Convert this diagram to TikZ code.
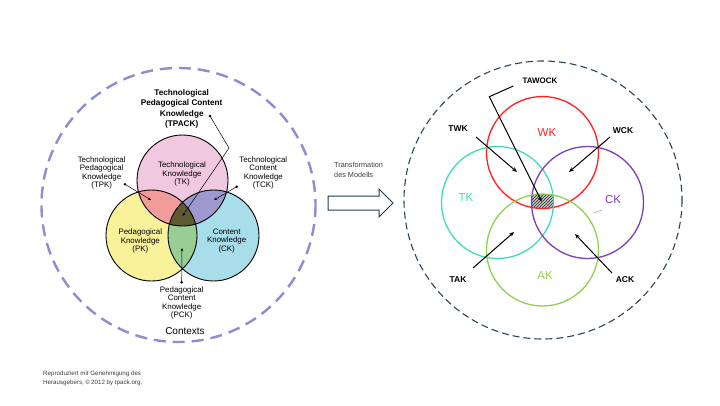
\documentclass[tikz,border=0pt]{standalone}
\usepackage{fontspec}
\setmainfont{Liberation Sans}
\usepackage{tikz}
\usepackage{xcolor}
\usetikzlibrary{arrows.meta, positioning, patterns, calc}
\definecolor{CtxLine}{HTML}{8E8CD2}
\definecolor{TkFill}{HTML}{F0C8DF}
\definecolor{PkFill}{HTML}{F8F29A}
\definecolor{CkFill}{HTML}{A8DDEA}
\definecolor{TpkFill}{HTML}{F29B9B}
\definecolor{TckFill}{HTML}{9D99CF}
\definecolor{PckFill}{HTML}{98CD96}
\definecolor{TpackFill}{HTML}{5E5A32}
\definecolor{RingInk}{HTML}{2B4555}
\definecolor{ArrowInk}{HTML}{1F3B4D}
\definecolor{WkRed}{HTML}{FF2020}
\definecolor{TkTeal}{HTML}{3DDDBB}
\definecolor{CkPurple}{HTML}{7E3DB8}
\definecolor{AkGreen}{HTML}{92D050}
\definecolor{NoteInk}{HTML}{3C3C3C}

\begin{document}
\begin{tikzpicture}[
  x=1pt, y=-1pt,
  lbl/.style={
    align=center,
    inner sep=0pt,
    font=\fontsize{7.9}{8.4}\selectfont,
  },
  ptr/.style={
    line width=0.5pt,
    -{Stealth[length=3.2pt, width=2.6pt]},
  },
  kpair/.style={
    inner sep=0pt,
    font=\bfseries\fontsize{8.5}{9}\selectfont,
  },
  kname/.style={
    inner sep=0pt,
    font=\fontsize{11.5}{12}\selectfont,
  },
  karr/.style={
    line width=1pt,
    -{Stealth[length=5pt, width=4pt]},
  },
  ring/.style={
    line width=1.3pt,
  },
]
  \useasboundingbox (0,0) rectangle (720,405);

  % left model
  \coordinate (ctx) at (178.5,205);
  \coordinate (tk) at (182.5,180.5);
  \coordinate (pk) at (151.5,235.5);
  \coordinate (ck) at (213.5,235.5);

  \draw[CtxLine, line width=2.4pt, dash pattern=on 12pt off 7pt] (ctx) circle (137);

  \fill[TkFill] (tk) circle (45.5);
  \fill[PkFill] (pk) circle (45.5);
  \fill[CkFill] (ck) circle (45.5);
  \begin{scope}
    \clip (tk) circle (45.5);
    \fill[TpkFill] (pk) circle (45.5);
    \fill[TckFill] (ck) circle (45.5);
  \end{scope}
  \begin{scope}
    \clip (pk) circle (45.5);
    \fill[PckFill] (ck) circle (45.5);
    \clip (ck) circle (45.5);
    \fill[TpackFill] (tk) circle (45.5);
  \end{scope}
  \draw[line width=0.9pt] (tk) circle (45.5) (pk) circle (45.5) (ck) circle (45.5);

  \node[lbl] (tkl) at (182,174.3) {Technological\\Knowledge\\(TK)};
  \node[lbl] (pkl) at (140.3,241) {Pedagogical\\Knowledge\\(PK)};
  \node[lbl] (ckl) at (226.7,241) {Content\\Knowledge\\(CK)};
  \node[lbl] (tpkl) at (101.7,173) {Technological\\Pedagogical\\Knowledge\\(TPK)};
  \node[lbl] (tckl) at (263.3,173) {Technological\\Content\\Knowledge\\(TCK)};
  \node[lbl] (pckl) at (181.7,303) {Pedagogical\\Content\\Knowledge\\(PCK)};
  \node[lbl, font=\bfseries\fontsize{8.2}{10.3}\selectfont] (tpackl) at (181.7,109)
    {Technological\\Pedagogical Content\\Knowledge\\(TPACK)};
  \node[inner sep=0pt, font=\fontsize{10}{11}\selectfont] (ctxl) at (185,330.7) {Contexts};

  \coordinate (tpkdot) at (125,184.3);
  \coordinate (tpkend) at (151,200);
  \coordinate (tckdot) at (236.7,186.7);
  \coordinate (tckend) at (214,200);
  \coordinate (pckdot) at (181.7,282.3);
  \coordinate (pckend) at (182,248);
  \coordinate (tpackdot) at (210,116);
  \coordinate (tpackbend) at (229,148);
  \coordinate (tpackend) at (182.5,216);
  \foreach \d in {tpkdot, tckdot, pckdot, tpackdot}
    \fill (\d) circle (1.4);
  \draw[ptr] (tpkdot) -- (tpkend);
  \draw[ptr] (tckdot) -- (tckend);
  \draw[ptr] (pckdot) -- (pckend);
  \draw[ptr] (tpackdot) -- (tpackbend) -- (tpackend);

  % transformation arrow
  \coordinate (tr) at (328,196);
  \draw[ArrowInk, line width=1pt, fill=white, line join=miter]
    (tr) -- ++(51,0) -- ++(0,-7) -- ++(14,14) -- ++(-14,14) -- ++(0,-7) -- ++(-51,0) -- cycle;
  \node[align=left, anchor=west, inner sep=0pt, text=NoteInk,
    font=\fontsize{7.3}{10}\selectfont] (trl) at (334,170) {Transformation\\des Modells};

  % right model
  \coordinate (ctx2) at (543,200);
  \coordinate (wk) at (542.5,152.5);
  \coordinate (tk2) at (497.5,202.5);
  \coordinate (ck2) at (587.5,202.5);
  \coordinate (ak) at (542.5,250);

  \draw[RingInk, line width=1.1pt, dash pattern=on 7pt off 4pt] (ctx2) circle (139);

  \begin{scope}
    \clip (wk) circle (56);
    \clip (tk2) circle (56);
    \clip (ck2) circle (56);
    \clip (ak) circle (56);
    \fill[gray!45] (wk) ++(-30,30) rectangle ++(60,40);
    \fill[pattern=north east lines, pattern color=black!85] (wk) ++(-30,30) rectangle ++(60,40);
  \end{scope}

  \draw[ring, WkRed] (wk) circle (56);
  \draw[ring, TkTeal] (tk2) circle (56);
  \draw[ring, CkPurple] (ck2) circle (56);
  \draw[ring, AkGreen] (ak) circle (56);
  \draw[gray!55, line width=0.8pt] (594,213) -- (602,210);

  \node[kname, text=WkRed] (wkl) at (547,133) {WK};
  \node[kname, text=TkTeal] (tkl2) at (466,198) {TK};
  \node[kname, text=CkPurple] (ckl2) at (613,200) {CK};
  \node[kname, text=AkGreen] (akl) at (545,276) {AK};

  \node[kpair] (twk) at (458,129) {TWK};
  \node[kpair] (wck) at (623,131) {WCK};
  \node[kpair] (tak) at (458,280) {TAK};
  \node[kpair] (ack) at (625,280) {ACK};
  \node[kpair, font=\bfseries\fontsize{8}{9}\selectfont] (tawock) at (540,81) {TAWOCK};

  \coordinate (twks) at (476,137);
  \coordinate (twke) at (517,172);
  \coordinate (wcks) at (610,137);
  \coordinate (wcke) at (569,172);
  \coordinate (taks) at (473,268);
  \coordinate (take) at (514,232);
  \coordinate (acks) at (612,273);
  \coordinate (acke) at (575,234);
  \coordinate (tawocks) at (513.3,86);
  \coordinate (tawockb) at (489.3,96.7);
  \coordinate (tawocke) at (541.7,201.7);
  \draw[karr] (twks) -- (twke);
  \draw[karr] (wcks) -- (wcke);
  \draw[karr] (taks) -- (take);
  \draw[karr] (acks) -- (acke);
  \draw[karr] (tawocks) -- (tawockb) -- (tawocke);

  % source note
  \node[align=left, anchor=west, inner sep=0pt, text=NoteInk,
    font=\fontsize{6.2}{8.6}\selectfont] (src) at (43,378.5)
    {Reproduziert mit Genehmigung des\\Herausgebers, \textcopyright\,2012 by tpack.org.};
\end{tikzpicture}
\end{document}
